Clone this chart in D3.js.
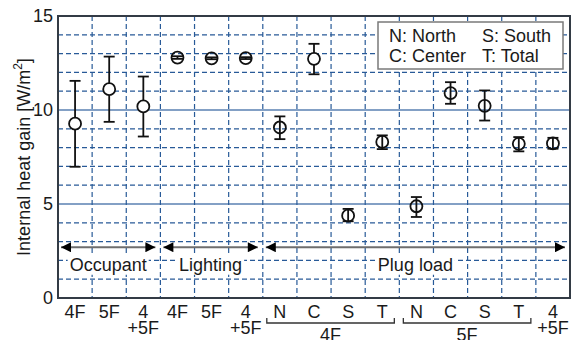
<!DOCTYPE html>
<html>
<head>
<meta charset="utf-8">
<script src="https://cdn.jsdelivr.net/npm/d3@7"></script>
<style>
  body { margin: 0; background: #fff; }
  text { font-family: 'Liberation Sans', Arial, sans-serif; fill: #1a1a1a; }
</style>
</head>
<body>
<svg id="chart" width="572" height="340"></svg>
<script>
  'use strict'

  // tick labels (two lines for the combined floors)
  var tickTop = ['4F', '5F', '4', '4F', '5F', '4', 'N', 'C', 'S', 'T', 'N', 'C', 'S', 'T', '4']
  var tickBottom = ['', '', '+5F', '', '', '+5F', '', '', '', '', '', '', '', '', '+5F']

  // mean internal heat gain and error bar ends [W/m2]
  var means = [9.27, 11.11, 10.19, 12.79, 12.75, 12.76, 9.07, 12.72, 4.38, 8.30, 4.88, 10.90, 10.22, 8.20, 8.22]
  var lows = [6.98, 9.37, 8.59, 12.72, 12.70, 12.71, 8.45, 11.90, 4.08, 7.92, 4.31, 10.33, 9.44, 7.80, 7.94]
  var highs = [11.55, 12.84, 11.78, 12.86, 12.80, 12.81, 9.66, 13.52, 4.74, 8.65, 5.37, 11.48, 11.04, 8.56, 8.52]

  // arrow groups (first and last category index)
  var groupNames = ['Occupant', 'Lighting', 'Plug load']
  var groupFrom = [0, 3, 6]
  var groupTo = [2, 5, 14]

  // floor brackets under the plug load categories
  var floorNames = ['4F', '5F']
  var floorFrom = [6, 10]
  var floorTo = [9, 13]

  var yTicks = [0, 5, 10, 15]
  var legendRows = [['N: North', 'S: South'], ['C: Center', 'T: Total']]

  var margin = { top: 16, right: 2, bottom: 42, left: 58 }
  var width = 572 - margin.left - margin.right
  var height = 340 - margin.top - margin.bottom

  var svg = d3.select('#chart')
  var g = svg.append('g').attr('transform', 'translate(' + margin.left + ',' + margin.top + ')')

  var idx = d3.range(means.length)
  var x = d3.scaleBand().domain(idx).range([0, width]).padding(0)
  var y = d3.scaleLinear().domain([0, 15]).range([height, 0])
  var cx = function (i) { return x(i) + x.bandwidth() / 2 }

  var gridBlue = '#285a98'

  // dashed horizontal grid, every unit
  d3.range(1, 15).filter(function (v) { return v % 5 !== 0 }).forEach(function (v) {
    g.append('line')
      .attr('x1', 0).attr('x2', width)
      .attr('y1', y(v)).attr('y2', y(v))
      .attr('stroke', gridBlue).attr('stroke-width', 1.2)
      .attr('stroke-dasharray', '5,3')
  })
  // solid lines at 5 and 10
  ;[5, 10].forEach(function (v) {
    g.append('line')
      .attr('x1', 0).attr('x2', width)
      .attr('y1', y(v)).attr('y2', y(v))
      .attr('stroke', '#5a80b2').attr('stroke-width', 1.6)
  })
  // dashed vertical grid at category boundaries
  idx.slice(1).forEach(function (i) {
    g.append('line')
      .attr('x1', x(i)).attr('x2', x(i))
      .attr('y1', 0).attr('y2', height)
      .attr('stroke', gridBlue).attr('stroke-width', 1.2)
      .attr('stroke-dasharray', '5,3')
  })

  // group arrows
  var defs = svg.append('defs')
  defs.append('marker')
    .attr('id', 'head').attr('viewBox', '0 0 10 10')
    .attr('refX', 10).attr('refY', 5)
    .attr('markerWidth', 12).attr('markerHeight', 10)
    .attr('markerUnits', 'userSpaceOnUse')
    .attr('orient', 'auto-start-reverse')
    .append('path').attr('d', 'M0,0L10,5L0,10Z').attr('fill', '#000')

  var arrowY = y(2.7)
  groupNames.forEach(function (name, k) {
    var x0 = x(groupFrom[k]) + 3
    var x1 = x(groupTo[k]) + x.bandwidth() - 5
    g.append('line')
      .attr('x1', x0).attr('x2', x1)
      .attr('y1', arrowY).attr('y2', arrowY)
      .attr('stroke', '#6e6e6e').attr('stroke-width', 2.2)
      .attr('marker-start', 'url(#head)').attr('marker-end', 'url(#head)')
    var t = g.append('text')
      .attr('x', (x0 + x1) / 2).attr('y', y(1.45))
      .attr('text-anchor', 'middle')
      .style('font-size', '18px')
      .text(name)
    var bb = t.node().getBBox()
    g.insert('rect', function () { return t.node() })
      .attr('x', bb.x - 2).attr('y', bb.y + 1)
      .attr('width', bb.width + 4).attr('height', bb.height - 1)
      .attr('fill', '#fff')
  })

  // error bars and markers
  var capW = 11
  idx.forEach(function (i) {
    var px = cx(i)
    var through = (highs[i] - lows[i]) < 1.6
    var bar = g.append('g').attr('stroke', '#111').attr('stroke-width', 1.8)
    bar.append('line').attr('x1', px).attr('x2', px).attr('y1', y(highs[i])).attr('y2', y(lows[i]))
    bar.append('line').attr('x1', px - capW / 2).attr('x2', px + capW / 2).attr('y1', y(highs[i])).attr('y2', y(highs[i]))
    bar.append('line').attr('x1', px - capW / 2).attr('x2', px + capW / 2).attr('y1', y(lows[i])).attr('y2', y(lows[i]))
    var c = g.append('circle')
      .attr('cx', px).attr('cy', y(means[i])).attr('r', 6)
      .attr('fill', through ? 'none' : '#fff')
      .attr('stroke', '#111').attr('stroke-width', 1.8)
    if (!through) c.raise()
  })

  // legend
  var lg = g.append('g').attr('transform', 'translate(' + (378 - margin.left) + ',' + (22 - margin.top) + ')')
  lg.append('rect')
    .attr('width', 185).attr('height', 47)
    .attr('fill', '#fff').attr('stroke', '#7a7a7a').attr('stroke-width', 1.5)
  legendRows.forEach(function (row, r) {
    row.forEach(function (label, c) {
      lg.append('text')
        .attr('x', 11 + c * 93).attr('y', 20 + r * 20)
        .style('font-size', '18px')
        .text(label)
    })
  })

  // frame
  g.append('rect')
    .attr('width', width).attr('height', height)
    .attr('fill', 'none').attr('stroke', '#333b45').attr('stroke-width', 2)

  // y axis
  var yAxis = g.append('g').call(d3.axisLeft(y).tickValues(yTicks).tickSize(0).tickPadding(5))
  yAxis.select('.domain').remove()
  yAxis.selectAll('text').style('font-size', '18px').attr('fill', '#1a1a1a')
    .style('font-family', "'Liberation Sans', Arial, sans-serif")

  var yl = svg.append('text')
    .attr('transform', 'translate(30,' + (margin.top + height / 2) + ') rotate(-90)')
    .attr('text-anchor', 'middle')
    .style('font-size', '18px')
  yl.append('tspan').text('Internal heat gain [W/m')
  yl.append('tspan').attr('dy', -8).style('font-size', '12px').text('2')
  yl.append('tspan').attr('dy', 8).text(']')

  // x labels, second line as a tspan of the same text
  idx.forEach(function (i) {
    var t = g.append('text')
      .attr('x', cx(i)).attr('y', height + 20)
      .attr('text-anchor', 'middle')
      .style('font-size', '18px')
      .text(tickTop[i])
    if (tickBottom[i]) {
      t.append('tspan')
        .attr('x', cx(i)).attr('dy', 16)
        .text(tickBottom[i])
    }
  })

  // floor brackets
  floorNames.forEach(function (name, k) {
    var x0 = x(floorFrom[k]) + 4
    var x1 = x(floorTo[k]) + x.bandwidth() - 5
    var by = height + 25
    g.append('path')
      .attr('d', 'M' + x0 + ',' + (by - 5) + 'V' + by + 'H' + x1 + 'V' + (by - 5))
      .attr('fill', 'none').attr('stroke', '#333').attr('stroke-width', 1.3)
    g.append('text')
      .attr('x', (x0 + x1) / 2).attr('y', height + 43)
      .attr('text-anchor', 'middle')
      .style('font-size', '18px')
      .text(name)
  })
</script>
</body>
</html>
